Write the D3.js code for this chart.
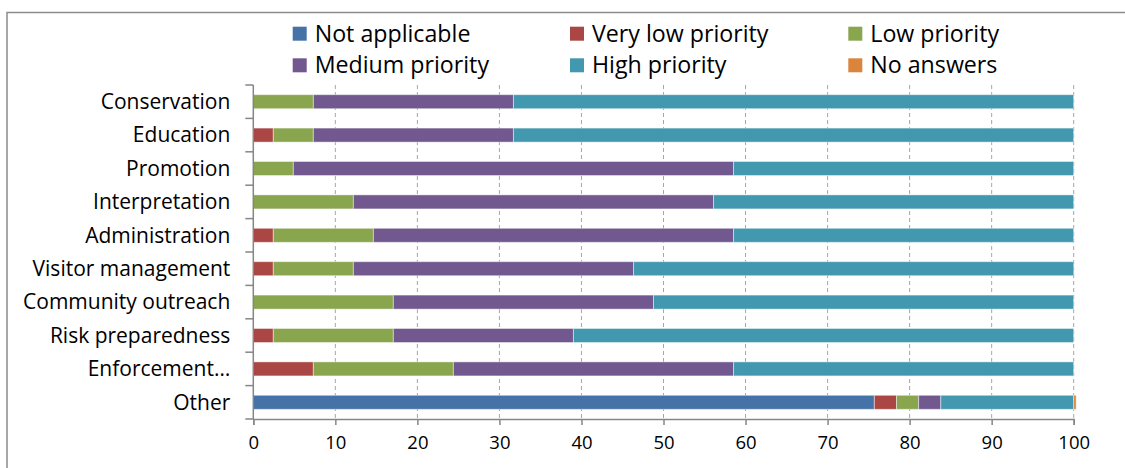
<!DOCTYPE html>
<html>
<head>
<meta charset="utf-8">
<script src="https://cdn.jsdelivr.net/npm/d3@7"></script>
<style>
  html, body { margin: 0; padding: 0; background: #fff; }
  svg { display: block; font-family: "Open Sans", "Noto Sans", sans-serif; }
</style>
</head>
<body>
<svg id="chart" width="1125" height="468"></svg>
<script>
// Management areas, top to bottom
const categories = [
  "Conservation", "Education", "Promotion", "Interpretation", "Administration",
  "Visitor management", "Community outreach", "Risk preparedness", "Enforcement…", "Other"
];

// Priority levels (stack order, left to right)
const seriesNames = [
  "Not applicable", "Very low priority", "Low priority",
  "Medium priority", "High priority", "No answers"
];

// Share of respondents (%) per priority level, one value per category
const notApplicable = [0, 0, 0, 0, 0, 0, 0, 0, 0, 75.7];
const veryLow       = [0, 2.44, 0, 0, 2.44, 2.44, 0, 2.44, 7.32, 2.7];
const low           = [7.32, 4.88, 4.88, 12.2, 12.2, 9.76, 17.07, 14.63, 17.07, 2.7];
const medium        = [24.39, 24.39, 53.66, 43.9, 43.9, 34.15, 31.71, 21.95, 34.15, 2.7];
const high          = [68.29, 68.29, 41.46, 43.9, 41.46, 53.66, 51.22, 60.98, 41.46, 16.2];
const noAnswers     = [0, 0, 0, 0, 0, 0, 0, 0, 0, 0.3];

const xTicks = [0, 10, 20, 30, 40, 50, 60, 70, 80, 90, 100];

const colors = ["#4572A7", "#AA4643", "#89A54E", "#71588F", "#4198AF", "#DB843D"];

const seriesValues = [notApplicable, veryLow, low, medium, high, noAnswers];
const rows = categories.map((c, i) => {
  const r = { category: c };
  seriesNames.forEach((s, k) => { r[s] = seriesValues[k][i]; });
  return r;
});

const svg = d3.select("#chart");

// outer chart frame
svg.append("rect")
  .attr("x", 7).attr("y", 12.5)
  .attr("width", 1300).attr("height", 600)
  .attr("fill", "none").attr("stroke", "#8c8c8c").attr("stroke-width", 1.5);

const plot = { left: 253.3, right: 1073.7, top: 85, bottom: 419 };

const x = d3.scaleLinear().domain([0, 100]).range([plot.left, plot.right]);
const y = d3.scaleBand().domain(categories).range([plot.top, plot.bottom]).paddingInner(0.58).paddingOuter(0.29);
const band = d3.scaleBand().domain(categories).range([plot.top, plot.bottom]);

// dashed vertical gridlines
svg.append("g")
  .selectAll("line")
  .data(xTicks.filter(t => t > 0))
  .join("line")
  .attr("x1", d => x(d)).attr("x2", d => x(d))
  .attr("y1", plot.top).attr("y2", plot.bottom)
  .attr("stroke", "#a6a6a6").attr("stroke-width", 1)
  .attr("stroke-dasharray", "4,3");

// stacked bars
const stack = d3.stack().keys(seriesNames);
const stacked = stack(rows);

svg.append("g")
  .selectAll("g")
  .data(stacked)
  .join("g")
  .attr("fill", (d, i) => colors[i])
  .selectAll("rect")
  .data(d => d.filter(p => p[1] - p[0] > 0))
  .join("rect")
  .attr("x", d => x(d[0]))
  .attr("width", d => x(d[1]) - x(d[0]))
  .attr("y", d => y(d.data.category))
  .attr("height", y.bandwidth())
  .attr("stroke", "#ffffff").attr("stroke-opacity", 0.45).attr("stroke-width", 1);

// x axis
const xAxis = svg.append("g")
  .attr("transform", `translate(0,${plot.bottom})`)
  .call(d3.axisBottom(x).tickValues(xTicks).tickSize(6).tickPadding(11).tickFormat(d3.format("d")));
xAxis.select(".domain").attr("stroke", "#868686").attr("stroke-width", 1.5);
xAxis.selectAll(".tick line").attr("stroke", "#868686").attr("stroke-width", 1.5);
xAxis.selectAll(".tick text").attr("fill", "#000").style("font-size", "18.5px")
  .style("font-family", "'Open Sans', sans-serif");

// y axis: ticks sit on band boundaries
const yAxis = svg.append("g")
  .attr("transform", `translate(${plot.left},0)`);
yAxis.append("line")
  .attr("x1", 0).attr("x2", 0).attr("y1", plot.top).attr("y2", plot.bottom)
  .attr("stroke", "#868686").attr("stroke-width", 1.5);
const boundaries = categories.map(c => band(c)).concat([plot.bottom]);
yAxis.selectAll("line.tk")
  .data(boundaries)
  .join("line")
  .attr("class", "tk")
  .attr("x1", -8).attr("x2", 0)
  .attr("y1", d => d).attr("y2", d => d)
  .attr("stroke", "#868686").attr("stroke-width", 1.5);
yAxis.selectAll("text")
  .data(categories)
  .join("text")
  .attr("x", -23)
  .attr("y", d => band(d) + band.bandwidth() / 2)
  .attr("dy", "0.35em")
  .attr("text-anchor", "end")
  .attr("fill", "#000")
  .style("font-size", "21px")
  .text(d => d);

// legend, 3 columns x 2 rows
const legendCols = [292.7, 570, 848.3];
const legendRows = [33.7, 65.3];
const legend = svg.append("g")
  .selectAll("g")
  .data(seriesNames)
  .join("g")
  .attr("transform", (d, i) => `translate(${legendCols[i % 3]},${legendRows[Math.floor(i / 3)]})`);
legend.append("rect")
  .attr("x", 0).attr("y", -7).attr("width", 14).attr("height", 14)
  .attr("fill", (d, i) => colors[i]);
legend.append("text")
  .attr("x", 22).attr("y", 0).attr("dy", "0.35em")
  .attr("fill", "#000")
  .style("font-size", "23.2px")
  .text(d => d);
</script>
</body>
</html>
